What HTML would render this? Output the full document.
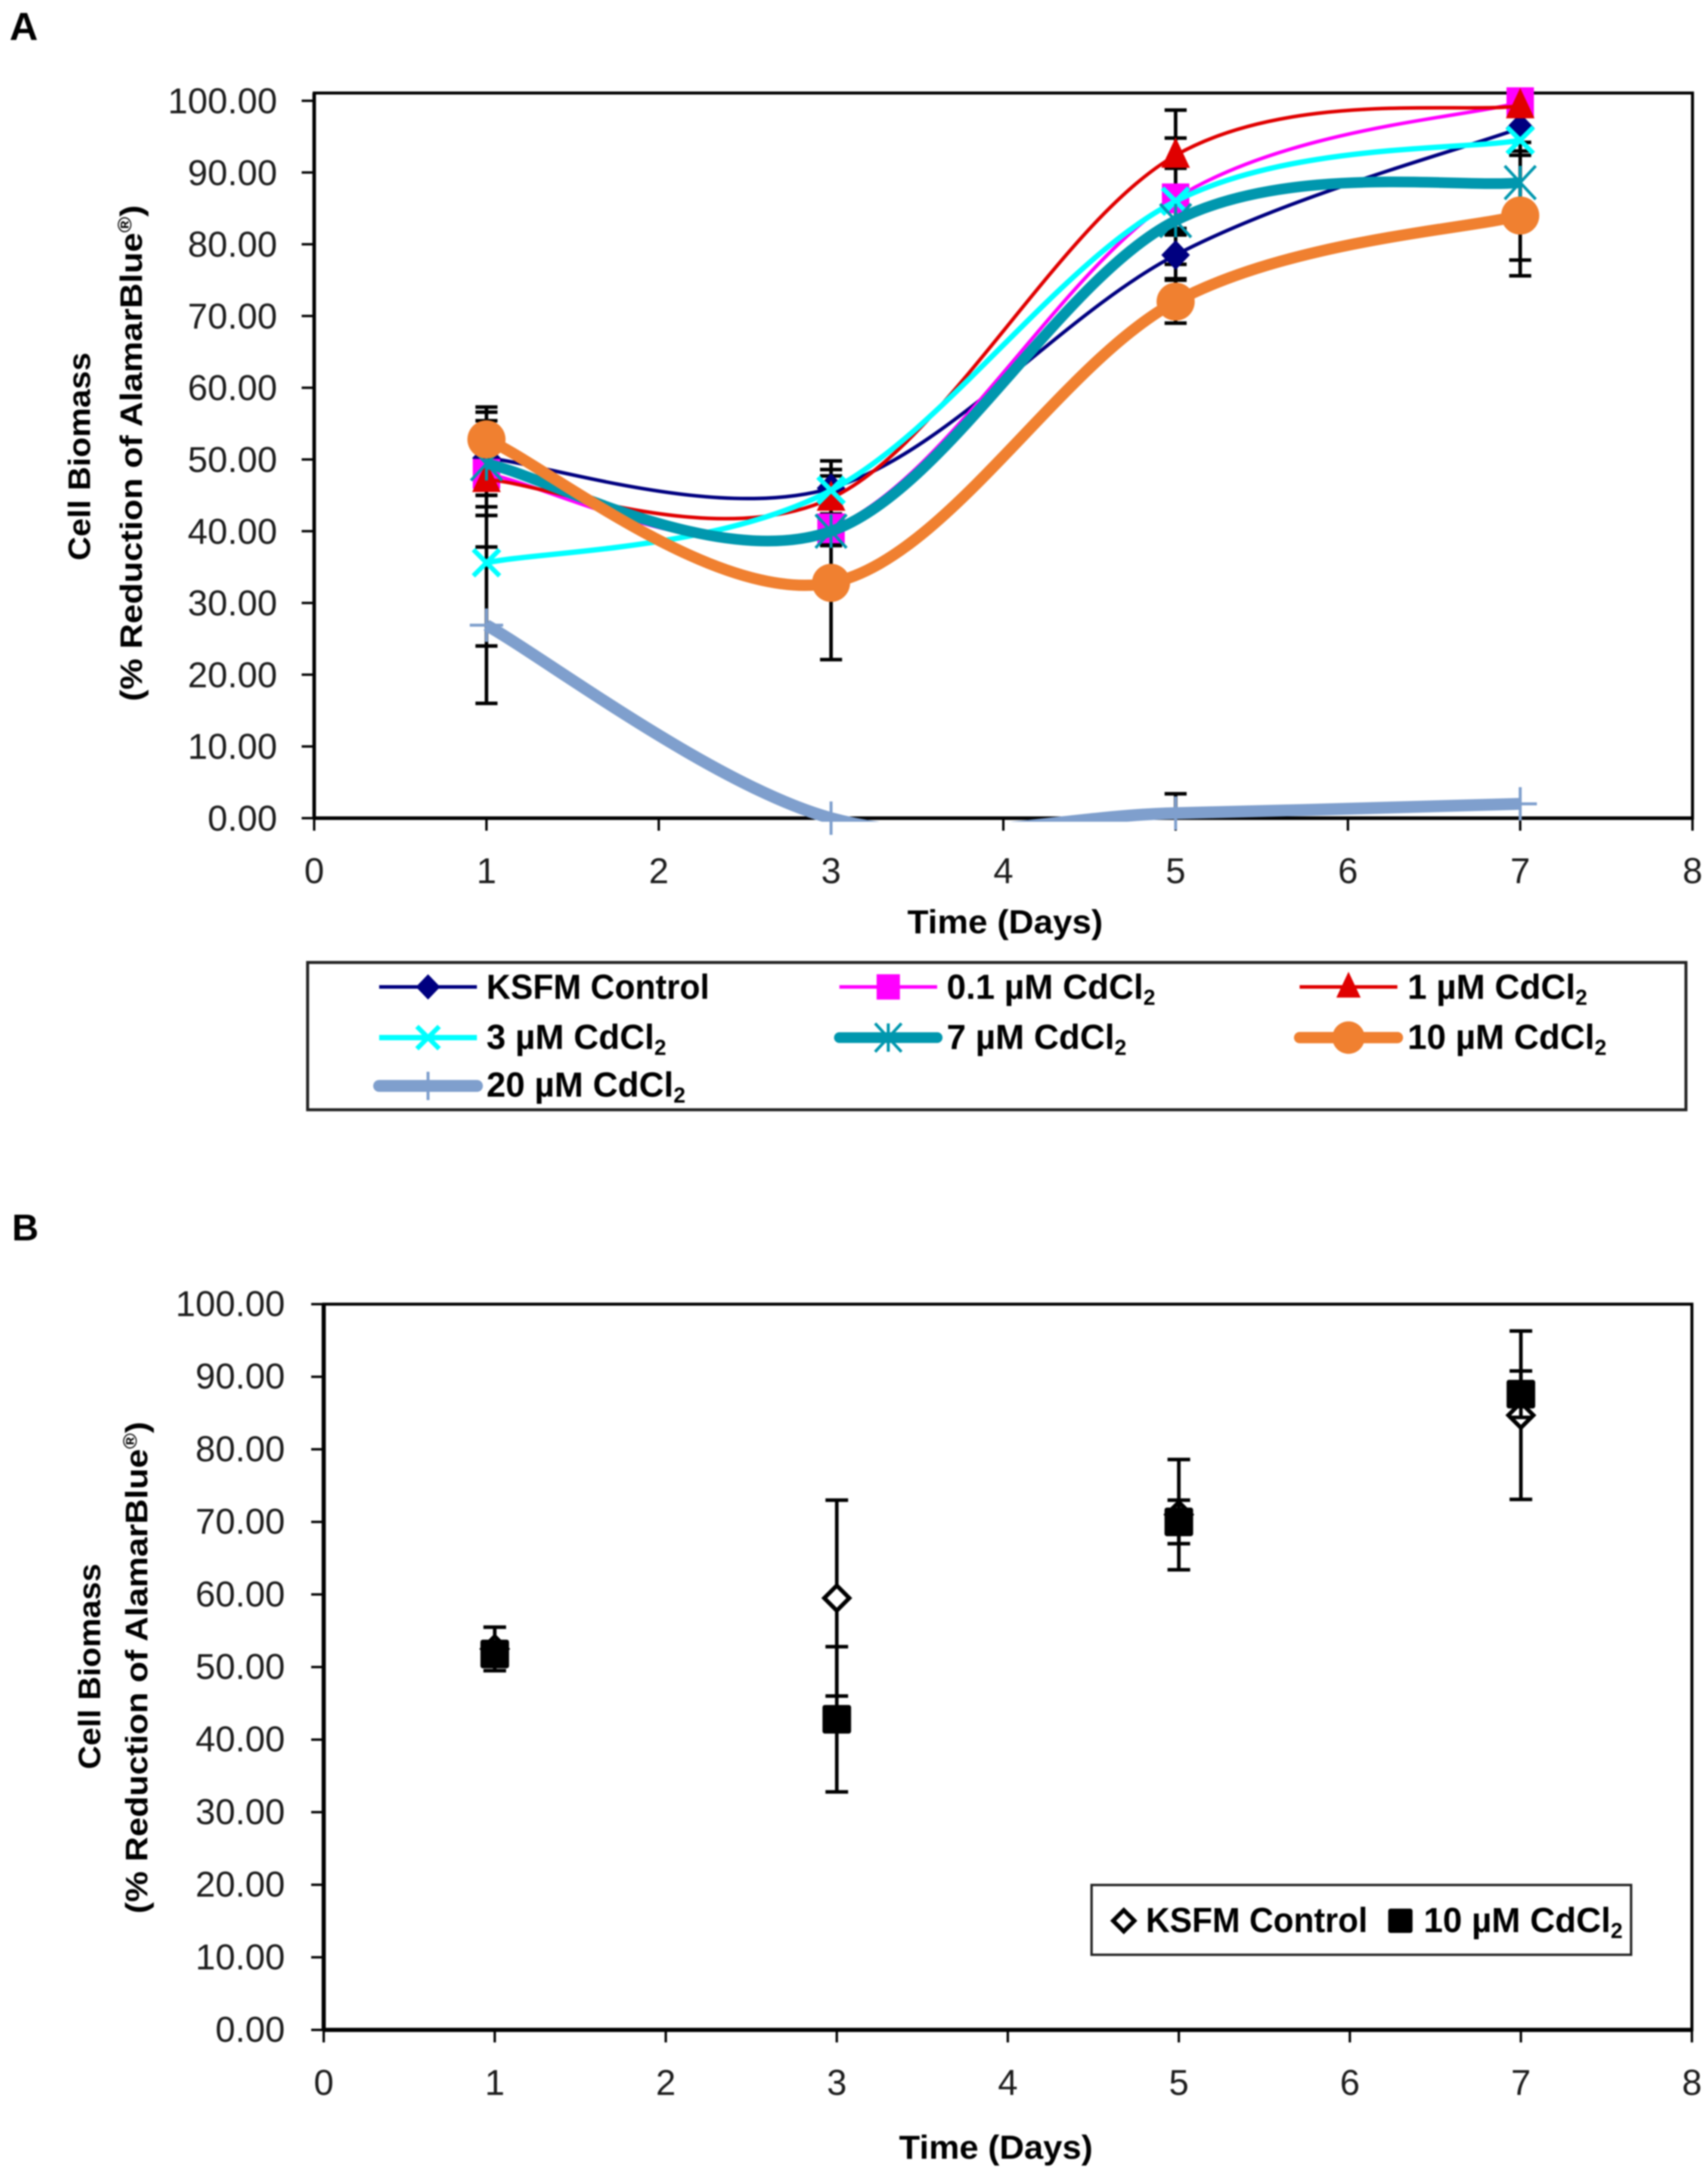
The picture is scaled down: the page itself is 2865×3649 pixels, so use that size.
<!DOCTYPE html>
<html lang="en">
<head>
<meta charset="utf-8">
<title>Cell Biomass charts</title>
<style>
html,body{margin:0;padding:0;background:#fff;width:2865px;height:3649px;overflow:hidden}
svg{display:block;filter:blur(1.3px)}
text{font-family:"Liberation Sans",sans-serif;fill:#000}
.tick{fill:#1c1c1c}
.ttl{font-weight:bold}
.leg{font-weight:bold;font-size:58px}
.sub{font-size:36px}
</style>
</head>
<body>
<svg id="figure" xmlns="http://www.w3.org/2000/svg" width="2865" height="3649" viewBox="0 0 2865 3649">
  <rect width="2865" height="3649" fill="#fff"/>
  <defs><clipPath id="clipA"><rect id="clipARect" x="0" y="0" width="2865" height="1378"/></clipPath></defs>

  <text class="ttl" x="16" y="67" font-size="66">A</text>
  <text class="ttl" x="20" y="2080" font-size="62">B</text>

  <g id="chartA"></g>
  <text class="ttl" transform="translate(151,940) rotate(-90)" font-size="52" textLength="349" lengthAdjust="spacingAndGlyphs">Cell Biomass</text>
  <text class="ttl" transform="translate(238,1176) rotate(-90)" font-size="52" textLength="832" lengthAdjust="spacingAndGlyphs">(% Reduction of AlamarBlue<tspan font-size="32" dy="-18">®</tspan><tspan dy="18">)</tspan></text>
  <text class="ttl" x="1522" y="1565" font-size="56" textLength="328" lengthAdjust="spacingAndGlyphs">Time (Days)</text>

  <g id="legendA">
    <rect x="516" y="1614" width="2312" height="247" fill="#fff" stroke="#222" stroke-width="5"/>
    <text class="leg" x="816" y="1675" font-size="60" textLength="374" lengthAdjust="spacingAndGlyphs">KSFM Control</text>
    <text class="leg" x="1588" y="1675">0.1 µM CdCl<tspan class="sub" dy="10">2</tspan></text>
    <text class="leg" x="2361" y="1675">1 µM CdCl<tspan class="sub" dy="10">2</tspan></text>
    <text class="leg" x="816" y="1759">3 µM CdCl<tspan class="sub" dy="10">2</tspan></text>
    <text class="leg" x="1588" y="1759">7 µM CdCl<tspan class="sub" dy="10">2</tspan></text>
    <text class="leg" x="2361" y="1759">10 µM CdCl<tspan class="sub" dy="10">2</tspan></text>
    <text class="leg" x="816" y="1839">20 µM CdCl<tspan class="sub" dy="10">2</tspan></text>
  </g>

  <g id="chartB"></g>
  <text class="ttl" transform="translate(168,2967) rotate(-90)" font-size="52" textLength="345" lengthAdjust="spacingAndGlyphs">Cell Biomass</text>
  <text class="ttl" transform="translate(247,3209) rotate(-90)" font-size="52" textLength="825" lengthAdjust="spacingAndGlyphs">(% Reduction of AlamarBlue<tspan font-size="32" dy="-18">®</tspan><tspan dy="18">)</tspan></text>
  <text class="ttl" x="1508" y="3620" font-size="56" textLength="325" lengthAdjust="spacingAndGlyphs">Time (Days)</text>

  <g id="legendB">
    <rect x="1831" y="3161" width="905" height="117" fill="#fff" stroke="#222" stroke-width="4"/>
    <text class="leg" x="1922" y="3240" textLength="372" lengthAdjust="spacingAndGlyphs">KSFM Control</text>
    <text class="leg" x="2388" y="3240">10 µM CdCl<tspan class="sub" dy="10">2</tspan></text>
  </g>
</svg>

<script>
// ---------- Data ----------
const days = [1, 3, 5, 7];
const yTickValues = [0, 10, 20, 30, 40, 50, 60, 70, 80, 90, 100];
const yTickLabels = ['0.00', '10.00', '20.00', '30.00', '40.00', '50.00', '60.00', '70.00', '80.00', '90.00', '100.00'];
const xTickValues = [0, 1, 2, 3, 4, 5, 6, 7, 8];
const xTickLabels = ['0', '1', '2', '3', '4', '5', '6', '7', '8'];

const ksfmValues = [50.2, 46.0, 78.5, 96.2];
const ksfmErrors = [5.2, 3.8, 3.3, 2.0];
const cd01Values = [48.0, 40.4, 86.4, 99.8];
const cd01Errors = [3.0, 2.0, 4.2, 0.5];
const cd1Values = [47.2, 44.6, 92.4, 99.3];
const cd1Errors = [3.8, 4.0, 6.3, 1.0];
const cd3Values = [35.6, 45.7, 86.0, 94.5];
const cd3Errors = [11.6, 2.0, 8.8, 1.5];
const cd7Values = [49.4, 40.0, 83.3, 88.6];
const cd7Errors = [7.2, 2.0, 2.0, 10.8];
const cd10Values = [52.8, 32.8, 72.0, 84.0];
const cd10Errors = [4.5, 10.7, 3.0, 8.4];
const cd20Values = [26.9, 0.0, 0.7, 2.0];
const cd20Errors = [10.9, 0.0, 2.7, 0.0];

const panelBKsfmValues = [52.5, 59.5, 71.0, 84.7];
const panelBKsfmErrors = [3.0, 13.5, 7.6, 11.6];
const panelBCd10Values = [51.8, 42.8, 70.0, 87.6];
const panelBCd10Errors = [1.0, 10.0, 3.0, 3.2];

// ---------- Helpers ----------
const NS = 'http://www.w3.org/2000/svg';
function make(parent, tag, geometry) {
  const el = document.createElementNS(NS, tag);
  for (const k in geometry) el.setAttribute(k, geometry[k]);
  parent.appendChild(el);
  return el;
}
function linearScale(d0, d1, r0, r1) {
  return v => r0 + (v - d0) * (r1 - r0) / (d1 - d0);
}
function smoothPath(pts) {
  let d = 'M' + pts[0][0] + ' ' + pts[0][1];
  for (let i = 0; i < pts.length - 1; i++) {
    const p0 = pts[Math.max(0, i - 1)], p1 = pts[i], p2 = pts[i + 1], p3 = pts[Math.min(pts.length - 1, i + 2)];
    const c1x = p1[0] + (p2[0] - p0[0]) / 6, c1y = p1[1] + (p2[1] - p0[1]) / 6;
    const c2x = p2[0] - (p3[0] - p1[0]) / 6, c2y = p2[1] - (p3[1] - p1[1]) / 6;
    d += ' C' + c1x + ' ' + c1y + ' ' + c2x + ' ' + c2y + ' ' + p2[0] + ' ' + p2[1];
  }
  return d;
}
function drawMarker(parent, type, color, cx, cy, s) {
  const g = make(parent, 'g', {});
  
  
  if (type === 'diamond') {
    make(g, 'polygon', {points: [cx, cy - 25 * s, cx + 24 * s, cy, cx, cy + 25 * s, cx - 24 * s, cy].join(' '), fill: color});
  } else if (type === 'square') {
    make(g, 'rect', {x: cx - 23 * s, y: cy - 25 * s, width: 46 * s, height: 50 * s, fill: color});
  } else if (type === 'triangle') {
    make(g, 'polygon', {points: [cx, cy - 30 * s, cx + 24 * s, cy + 21 * s, cx - 24 * s, cy + 21 * s].join(' '), fill: color});
  } else if (type === 'x') {
    make(g, 'path', {d: 'M' + (cx - 22 * s) + ' ' + (cy - 22 * s) + 'L' + (cx + 22 * s) + ' ' + (cy + 22 * s) + 'M' + (cx + 22 * s) + ' ' + (cy - 22 * s) + 'L' + (cx - 22 * s) + ' ' + (cy + 22 * s), stroke: color, 'stroke-width': 8, fill: 'none'});
  } else if (type === 'star') {
    make(g, 'path', {d: 'M' + (cx - 26 * s) + ' ' + (cy - 28 * s) + 'L' + (cx + 26 * s) + ' ' + (cy + 28 * s) + 'M' + (cx + 26 * s) + ' ' + (cy - 28 * s) + 'L' + (cx - 26 * s) + ' ' + (cy + 28 * s) + 'M' + cx + ' ' + (cy - 28 * s) + 'L' + cx + ' ' + (cy + 28 * s), stroke: color, 'stroke-width': 5, fill: 'none'});
  } else if (type === 'circle') {
    make(g, 'circle', {cx: cx, cy: cy, r: 32 * s, fill: color});
  } else if (type === 'plus') {
    make(g, 'path', {d: 'M' + (cx - 28 * s) + ' ' + cy + 'L' + (cx + 28 * s) + ' ' + cy + 'M' + cx + ' ' + (cy - 28 * s) + 'L' + cx + ' ' + (cy + 28 * s), stroke: color, 'stroke-width': 5, fill: 'none'});
  } else if (type === 'open-diamond') {
    make(g, 'polygon', {points: [cx, cy - 21 * s, cx + 21 * s, cy, cx, cy + 21 * s, cx - 21 * s, cy].join(' '), fill: '#fff', stroke: '#000', 'stroke-width': 7});
  } else if (type === 'black-square') {
    make(g, 'rect', {x: cx - 24 * s, y: cy - 24 * s, width: 48 * s, height: 48 * s, rx: 4, fill: color});
  }
  return g;
}
function drawErrorBar(parent, x, yTop, yBottom, capWidth) {
  const el = make(parent, 'path', {
    d: 'M' + x + ' ' + yTop + 'L' + x + ' ' + yBottom +
       'M' + (x - capWidth / 2) + ' ' + yTop + 'L' + (x + capWidth / 2) + ' ' + yTop +
       'M' + (x - capWidth / 2) + ' ' + yBottom + 'L' + (x + capWidth / 2) + ' ' + yBottom,
    stroke: '#000', 'stroke-width': 6, fill: 'none'
  });
  
  
}
function drawAxes(parent, xs, ys, frame, tickLen, yLabelRight, yLabelDy, xLabelY, fontSize, axisWidth) {
  const box = make(parent, 'rect', {x: frame.left, y: frame.top, width: frame.right - frame.left, height: frame.bottom - frame.top, fill: '#fff', stroke: '#000', 'stroke-width': 5});
  
  
  const xAxisLine = make(parent, 'line', {x1: frame.left, x2: frame.right, y1: frame.bottom, y2: frame.bottom, stroke: '#000', 'stroke-width': axisWidth});
  
  
  const yAxisLine = make(parent, 'line', {x1: frame.left, x2: frame.left, y1: frame.top, y2: frame.bottom, stroke: '#000', 'stroke-width': axisWidth});
  
  
  yTickValues.forEach((v, i) => {
    const tick = make(parent, 'line', {x1: frame.left - tickLen, x2: frame.left, y1: ys(v), y2: ys(v), stroke: '#000', 'stroke-width': 4});
    
    
    const label = make(parent, 'text', {x: yLabelRight, y: ys(v) + yLabelDy, 'text-anchor': 'end', 'font-size': fontSize, class: 'tick'});
    
    
    label.textContent = yTickLabels[i];
  });
  xTickValues.forEach((v, i) => {
    const tick = make(parent, 'line', {x1: xs(v), x2: xs(v), y1: frame.bottom, y2: frame.bottom + tickLen, stroke: '#000', 'stroke-width': 4});
    
    
    const label = make(parent, 'text', {x: xs(v), y: xLabelY, 'text-anchor': 'middle', 'font-size': fontSize, class: 'tick'});
    
    
    label.textContent = xTickLabels[i];
  });
}

// ---------- Panel A ----------
const chartA = document.getElementById('chartA');
const xA = linearScale(0, 8, 527, 2839);
const yA = linearScale(0, 100, 1372, 169);
drawAxes(chartA, xA, yA, {left: 527, right: 2839, top: 156, bottom: 1372}, 21, 465, 21, 1481, 60, 6);

const seriesA = [
  {values: ksfmValues, errors: ksfmErrors, color: '#000080', width: 6, marker: 'diamond'},
  {values: cd01Values, errors: cd01Errors, color: '#ff00ff', width: 6, marker: 'square'},
  {values: cd1Values, errors: cd1Errors, color: '#e00000', width: 6, marker: 'triangle'},
  {values: cd3Values, errors: cd3Errors, color: '#00ffff', width: 9, marker: 'x'},
  {values: cd7Values, errors: cd7Errors, color: '#0097ae', width: 18, marker: 'star'},
  {values: cd10Values, errors: cd10Errors, color: '#f08030', width: 19, marker: 'circle'},
  {values: cd20Values, errors: cd20Errors, color: '#7f9fcd', width: 20, marker: 'plus'}
];

seriesA.forEach(s => {
  days.forEach((d, i) => {
    if (s.errors[i] > 0) {
      drawErrorBar(chartA, xA(d), yA(s.values[i] + s.errors[i]), yA(Math.max(0, s.values[i] - s.errors[i])), 37);
    }
  });
});
seriesA.forEach(s => {
  const pts = days.map((d, i) => [xA(d), yA(s.values[i])]);
  const line = make(chartA, 'path', {d: smoothPath(pts), fill: 'none', stroke: s.color, 'stroke-width': s.width, 'clip-path': 'url(#clipA)'});
  
  
  days.forEach((d, i) => {
    drawMarker(chartA, s.marker, s.color, xA(d), yA(s.values[i]), 1);
  });
});

// Legend keys for panel A (three columns, row by row, same order as the series)
const legendA = document.getElementById('legendA');
seriesA.forEach((s, i) => {
  const col = i % 3, row = Math.floor(i / 3);
  const x1 = 636 + col * 772, x2 = x1 + 164;
  const y = row === 0 ? 1655 : (row === 1 ? 1740 : 1821);
  const key = make(legendA, 'line', {x1: x1, x2: x2, y1: y, y2: y, stroke: s.color, 'stroke-width': s.width, 'stroke-linecap': s.width > 10 ? 'round' : 'butt'});
  
  
  drawMarker(legendA, s.marker, s.color, (x1 + x2) / 2, y, 0.85);
});

// ---------- Panel B ----------
const chartB = document.getElementById('chartB');
const xB = linearScale(0, 8, 543, 2838);
const yB = linearScale(0, 100, 3404, 2187);
drawAxes(chartB, xB, yB, {left: 543, right: 2838, top: 2187, bottom: 3404}, 21, 478, 20, 3513, 60, 7);

const seriesB = [
  {values: panelBKsfmValues, errors: panelBKsfmErrors, marker: 'open-diamond'},
  {values: panelBCd10Values, errors: panelBCd10Errors, marker: 'black-square'}
];
seriesB.forEach(s => {
  days.forEach((d, i) => {
    drawErrorBar(chartB, xB(d), yB(s.values[i] + s.errors[i]), yB(s.values[i] - s.errors[i]), 38);
    drawMarker(chartB, s.marker, '#000', xB(d), yB(s.values[i]), 1);
  });
});
const legendB = document.getElementById('legendB');
drawMarker(legendB, 'open-diamond', '#000', 1885, 3221, 0.85);
drawMarker(legendB, 'black-square', '#000', 2349, 3221, 0.85);
</script>
</body>
</html>
